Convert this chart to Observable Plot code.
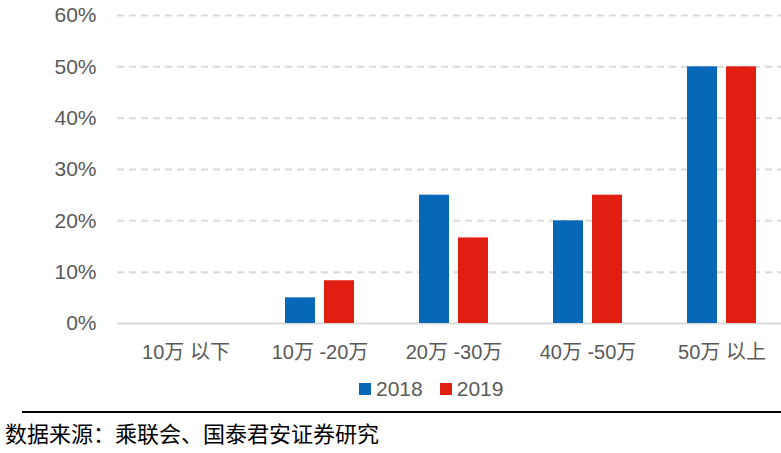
<!DOCTYPE html>
<html>
<head>
<meta charset="utf-8">
<script src="https://cdn.jsdelivr.net/npm/d3@7"></script>
<script src="https://cdn.jsdelivr.net/npm/@observablehq/plot@0.6"></script>
<style>
  html, body { margin: 0; padding: 0; background: #fff; }
  #wrap { position: relative; width: 781px; height: 453px; overflow: hidden;
          font-family: "Liberation Sans", Arial, "Noto Sans CJK SC", sans-serif; }
  #chart { position: absolute; left: 0; top: 0; }
  #legend { position: absolute; left: 359px; top: 378px; height: 22px; display: flex; align-items: center;
            font-size: 21px; color: #595959; }
  .sw { width: 12px; height: 12px; display: inline-block; margin-right: 5px; }
  .item { display: flex; align-items: center; margin-right: 17px; }
  #rule { position: absolute; left: 22px; top: 411px; width: 759px; height: 2px; background: #000; }
  #source { position: absolute; left: 5px; top: 420px; font-size: 22px; line-height: 24px; color: #000;
            font-family: "Noto Sans CJK SC", sans-serif; white-space: nowrap; }
</style>
</head>
<body>
<div id="wrap">
  <div id="chart"></div>
  <div id="legend"></div>
  <div id="rule"></div>
  <div id="source"></div>
</div>
<script>
const categories = ["10万 以下", "10万 -20万", "20万 -30万", "40万 -50万", "50万 以上"];
const series = ["2018", "2019"];
const values2018 = [0, 0.05, 0.25, 0.20, 0.50];
const values2019 = [0, 0.0833, 0.1667, 0.25, 0.50];
const yTicks = [0, 0.1, 0.2, 0.3, 0.4, 0.5, 0.6];
const colors = ["#0868b8", "#e01e12"];
const sourceText = "数据来源：乘联会、国泰君安证券研究";

const d2018 = categories.map((c, i) => ({cat: c, v: values2018[i]}));
const d2019 = categories.map((c, i) => ({cat: c, v: values2019[i]}));

const plot = Plot.plot({
  width: 781,
  height: 370,
  marginLeft: 117,
  marginRight: 0,
  marginTop: 15,
  marginBottom: 47,
  style: {fontFamily: '"Liberation Sans", Arial, "Noto Sans CJK SC", sans-serif', fontSize: "21px", color: "#595959", background: "white"},
  x: {domain: categories, range: [117, 790], paddingInner: 0.4874, paddingOuter: 0.2437, label: null},
  y: {domain: [0, 0.6], label: null},
  marks: [
    Plot.ruleY(yTicks.filter(d => d > 0), {stroke: "#d9d9d9", strokeWidth: 2, strokeDasharray: "7,5"}),
    Plot.ruleY([0], {stroke: "#d9d9d9", strokeWidth: 2}),
    Plot.barY(d2018, {x: "cat", y: "v", fill: colors[0], insetRight: 39}),
    Plot.barY(d2019, {x: "cat", y: "v", fill: colors[1], insetLeft: 39}),
    Plot.axisY({ticks: yTicks, tickSize: 0, tickPadding: 21, tickFormat: d => Math.round(d * 100) + "%", fontSize: 21, fill: "#595959"}),
    Plot.axisX({tickSize: 0, tickPadding: 21, fontSize: 20, fill: "#595959"})
  ]
});
document.getElementById("chart").appendChild(plot);

const legend = document.getElementById("legend");
series.forEach((s, i) => {
  const item = document.createElement("div");
  item.className = "item";
  item.innerHTML = `<span class="sw" style="background:${colors[i]}"></span><span>${s}</span>`;
  legend.appendChild(item);
});
document.getElementById("source").textContent = sourceText;
</script>
</body>
</html>
